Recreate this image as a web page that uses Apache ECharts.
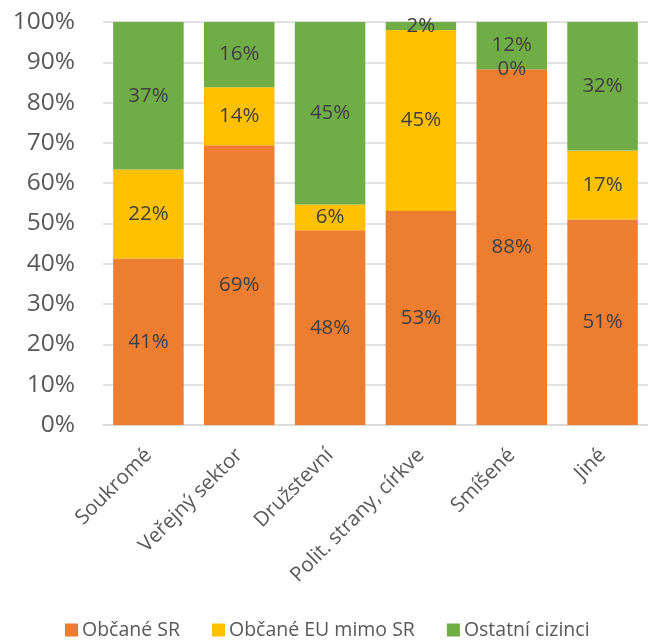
<!DOCTYPE html>
<html>
<head>
<meta charset="utf-8">
<script src="https://cdn.jsdelivr.net/npm/echarts@6/dist/echarts.min.js"></script>
<style>
  html, body { margin: 0; padding: 0; background: #fff; }
  #chart { width: 648px; height: 644px; }
</style>
</head>
<body>
<div id="chart"></div>
<script>
// Ownership categories
const categories = ['Soukromé', 'Veřejný sektor', 'Družstevní', 'Polit. strany, církve', 'Smíšené', 'Jiné'];

// Shares (%) per group of citizens
const obcaneSR = [41.3, 69.4, 48.3, 53.1, 88.3, 51.0];
const obcaneEU = [22.1, 14.4, 6.4, 44.9, 0.0, 17.1];
const ostatni  = [36.6, 16.2, 45.3, 2.0, 11.7, 31.9];

const seriesNames = ['Občané SR', 'Občané EU mimo SR', 'Ostatní cizinci'];
const colors = ['#ED7D31', '#FFC000', '#70AD47'];

const yTicks = { min: 0, max: 100, interval: 10 };

const FONT = '"Open Sans", sans-serif';

function makeSeries(name, data, color) {
  return {
    name: name,
    type: 'bar',
    stack: 'total',
    barWidth: 70.5,
    data: data,
    itemStyle: { color: color },
    label: {
      show: true,
      position: 'inside',
      formatter: p => Math.round(p.value) + '%',
      color: '#404040',
      fontFamily: FONT,
      fontSize: 20.5
    }
  };
}

const chart = echarts.init(document.getElementById('chart'), null, { renderer: 'canvas' });
chart.setOption({
  animation: false,
  backgroundColor: '#fff',
  grid: { left: 103, right: -3, top: 22, bottom: 219, containLabel: false },
  legend: {
    top: 615,
    left: 60,
    itemWidth: 13,
    itemHeight: 13,
    itemGap: 32,
    icon: 'rect',
    textStyle: { color: '#595959', fontFamily: FONT, fontSize: 19.5, padding: [0, 0, 0, -1] },
    data: seriesNames
  },
  xAxis: {
    type: 'category',
    data: categories,
    axisLine: { lineStyle: { color: '#d9d9d9', width: 1.5 } },
    axisTick: { show: false },
    axisLabel: {
      rotate: 45,
      margin: 27,
      color: '#595959',
      fontFamily: FONT,
      fontSize: 20.5,
      interval: 0
    }
  },
  yAxis: {
    type: 'value',
    min: yTicks.min,
    max: yTicks.max,
    interval: yTicks.interval,
    axisLine: { show: false },
    axisTick: { show: false },
    splitLine: { lineStyle: { color: '#d9d9d9', width: 1.5 } },
    axisLabel: {
      formatter: v => v + '%',
      margin: 28,
      color: '#595959',
      fontFamily: FONT,
      fontSize: 24.5
    }
  },
  series: [
    makeSeries(seriesNames[0], obcaneSR, colors[0]),
    makeSeries(seriesNames[1], obcaneEU, colors[1]),
    makeSeries(seriesNames[2], ostatni, colors[2])
  ]
});
</script>
</body>
</html>
